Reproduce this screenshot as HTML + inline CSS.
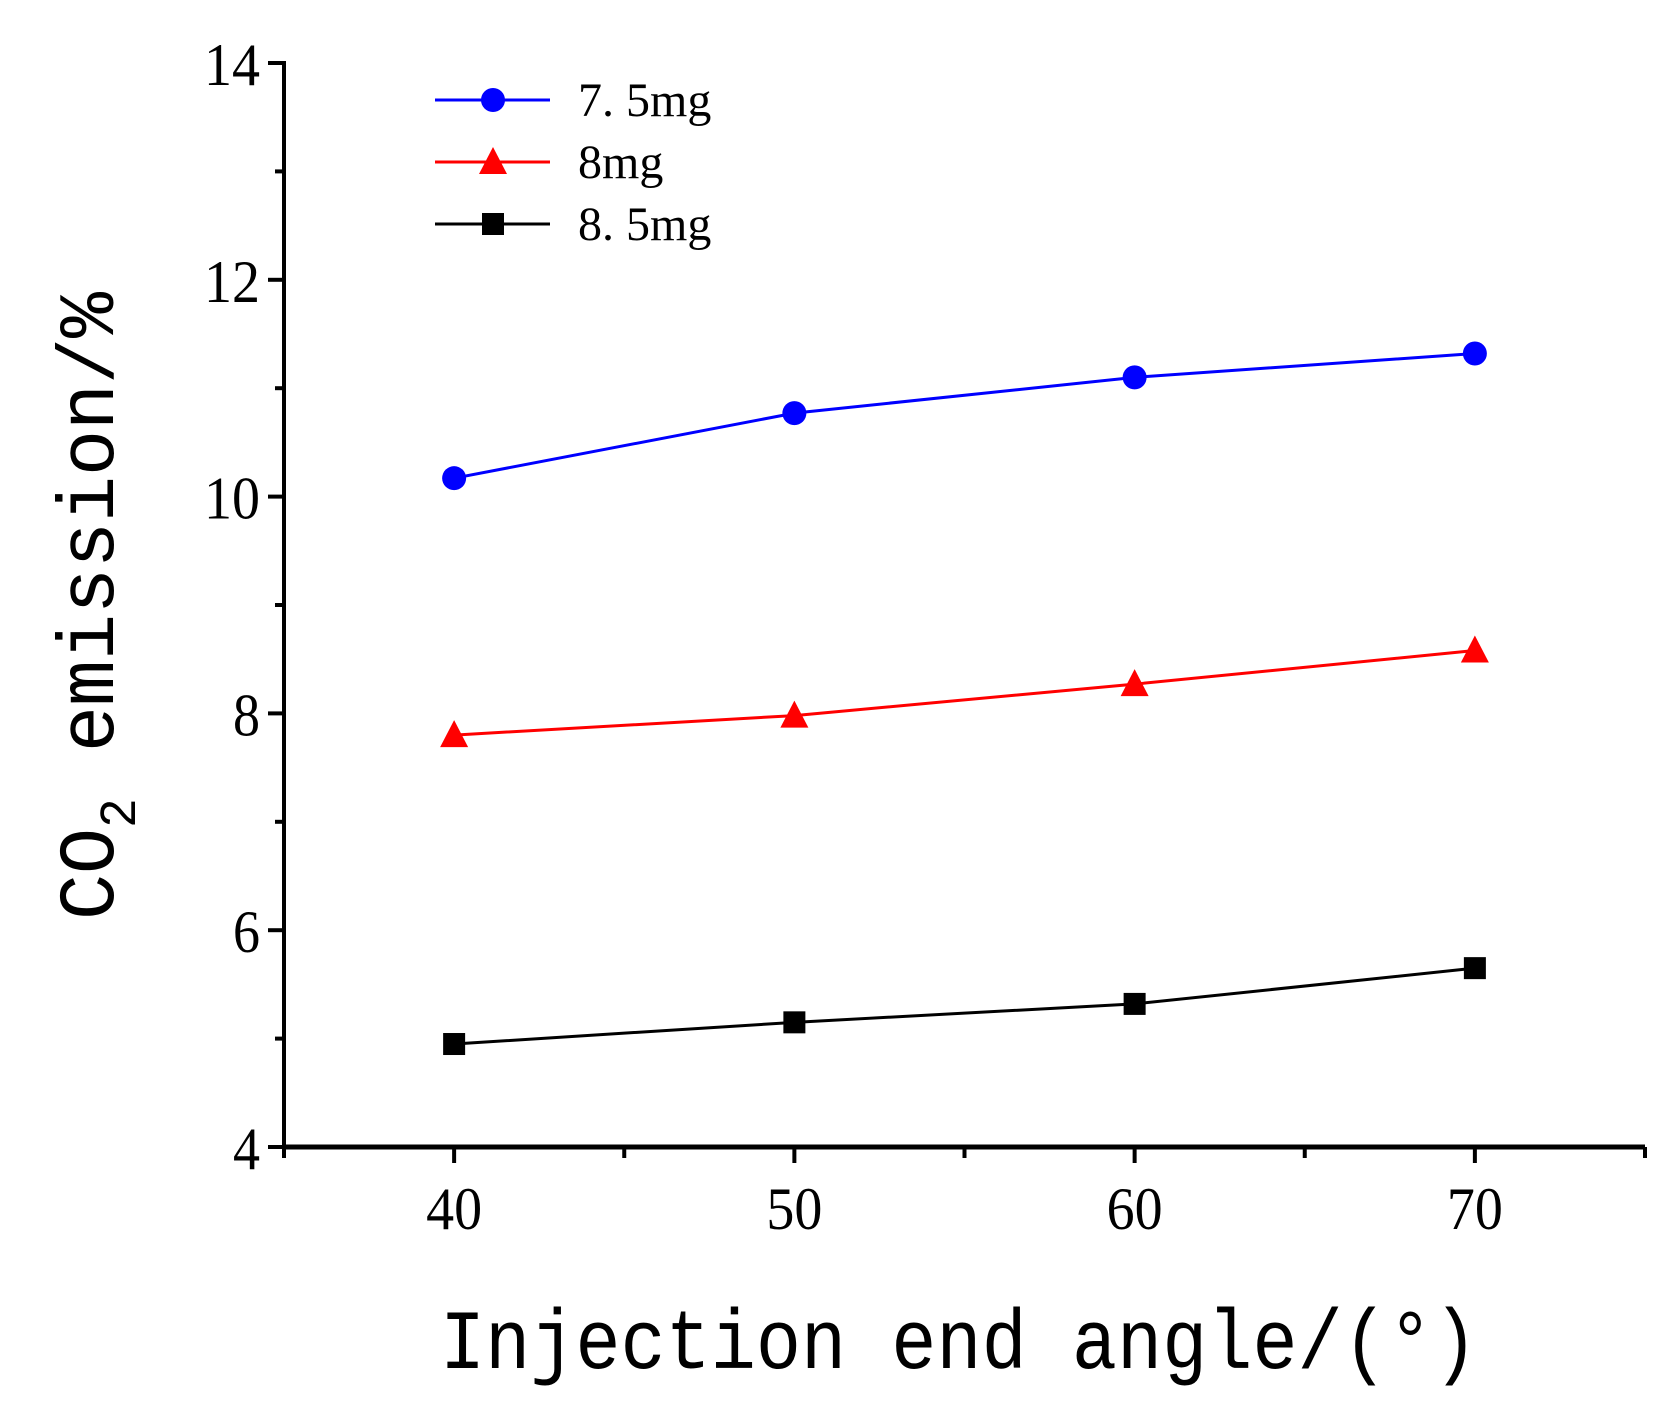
<!DOCTYPE html>
<html><head><meta charset="utf-8"><style>
html,body{margin:0;padding:0;background:#fff;}
svg{display:block;}
text{font-family:"Liberation Serif","Noto Serif CJK SC",serif;fill:#000;}
.mono{font-family:"Liberation Mono","Noto Sans CJK SC",monospace;}
</style></head><body>
<svg id="chart" width="1680" height="1404" viewBox="0 0 1680 1404" xmlns="http://www.w3.org/2000/svg">
<g id="axes"></g>
<g id="series"></g>
<g id="legend"></g>
<text class="mono" x="440" y="1368" font-size="84" textLength="1038" lengthAdjust="spacingAndGlyphs">Injection end angle/(°)</text>
<text class="mono" transform="translate(113,920) rotate(-90)" font-size="80" textLength="628" lengthAdjust="spacingAndGlyphs">CO<tspan font-size="52" dy="22">2</tspan><tspan dy="-22"> emission/%</tspan></text>
</svg>
<script>
const categories=[40,50,60,70];
const s75=[10.17,10.77,11.1,11.32];
const s8=[7.8,7.98,8.27,8.58];
const s85=[4.95,5.15,5.32,5.65];
const yTicks=[4,6,8,10,12,14];
const xTicks=[40,50,60,70];
const NS="http://www.w3.org/2000/svg";
const X0=284,X1=1645,Y0=1147,Y1=63;
function xs(v){return X0+(v-35)/40*(X1-X0);}
function ys(v){return Y0-(v-4)/10*(Y0-Y1);}
function mk(t,a,p){const e=document.createElementNS(NS,t);for(const k in a)e.setAttribute(k,a[k]);(p||document.getElementById('axes')).appendChild(e);return e;}
let l=mk('line',{x1:X0,y1:Y1-2,x2:X0,y2:Y0+2,stroke:'#000','stroke-width':4});


l=mk('line',{x1:X0-2,y1:Y0,x2:X1,y2:Y0,stroke:'#000','stroke-width':5});


for(let v=4;v<=14;v+=1){const maj=v%2===0;mk('line',{x1:X0-(maj?16:9),y1:ys(v),x2:X0,y2:ys(v),stroke:'#000','stroke-width':4});}
yTicks.forEach(v=>{const t=mk('text',{x:X0-24,y:ys(v)+22,'font-size':60,'text-anchor':'end',textLength:v>=10?56:27,lengthAdjust:'spacingAndGlyphs'});t.textContent=v;

});
for(let v=35;v<=75;v+=5){mk('line',{x1:xs(v),y1:Y0,x2:xs(v),y2:Y0+(v%10===0?16:11),stroke:'#000','stroke-width':4});}
xTicks.forEach(v=>{const t=mk('text',{x:xs(v),y:Y0+82,'font-size':60,'text-anchor':'middle',textLength:56,lengthAdjust:'spacingAndGlyphs'});t.textContent=v;

});
const sg=document.getElementById('series');
function marker(type,x,y,c,p){
 if(type==='circle')return mk('circle',{cx:x,cy:y,r:12,fill:c},p);
 if(type==='tri')return mk('polygon',{points:`${x},${y-15} ${x-14},${y+12} ${x+14},${y+12}`,fill:c},p);
 return mk('rect',{x:x-11,y:y-11,width:22,height:22,fill:c},p);
}
[[s75,'#0000ff','circle','series-7-5mg'],[s8,'#ff0000','tri','series-8mg'],[s85,'#000','square','series-8-5mg']].forEach(([d,c,m,n])=>{
 const g=mk('g',{},sg);
 
 
 const pl=mk('polyline',{points:d.map((v,i)=>xs(categories[i])+','+ys(v)).join(' '),fill:'none',stroke:c,'stroke-width':3},g);
 
 
 d.forEach((v,i)=>{const e=marker(m,xs(categories[i]),ys(v),c,g);
 
 });
});
const lg=document.getElementById('legend');
[['7. 5mg','#0000ff','circle',100],['8mg','#ff0000','tri',162],['8. 5mg','#000','square',224]].forEach(([txt,c,m,y])=>{
 const g=mk('g',{},lg);
 
 
 mk('line',{x1:435,y1:y,x2:550,y2:y,stroke:c,'stroke-width':3},g);
 marker(m,493,y,c,g);
 const t=mk('text',{x:578,y:y+16,'font-size':48},g);t.textContent=txt;
});
</script>
</body></html>
